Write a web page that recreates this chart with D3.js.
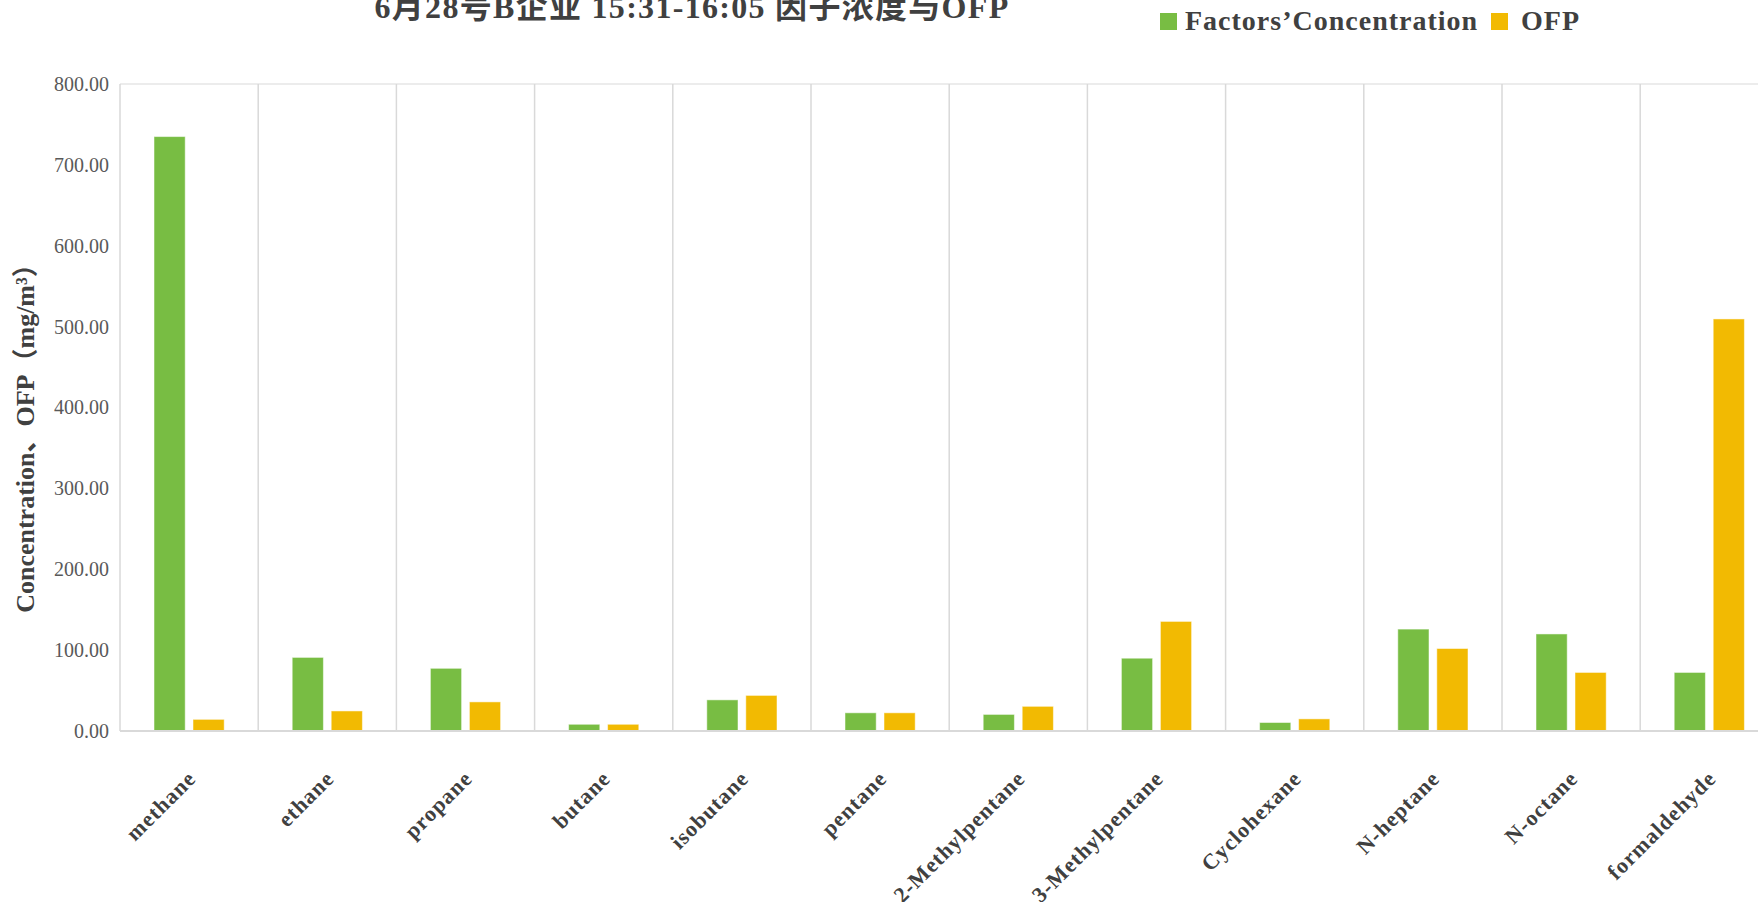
<!DOCTYPE html>
<html>
<head>
<meta charset="utf-8">
<script src="https://cdn.jsdelivr.net/npm/d3@7"></script>
<style>
  body { margin: 0; background: #fff; overflow: hidden; }
  svg { display: block; }
</style>
</head>
<body>
<div id="chart"></div>
<script>
// chart data
var categories = ["methane", "ethane", "propane", "butane", "isobutane", "pentane",
    "2-Methylpentane", "3-Methylpentane", "Cyclohexane", "N-heptane", "N-octane", "formaldehyde"];
var seriesNames = ["Factors\u2019Concentration", "OFP"];
var concentration = [735, 91, 77.5, 8.3, 38.5, 22.5, 20.5, 90, 10.5, 126, 120, 72.4];
var ofp = [14.4, 24.8, 36, 8.3, 44, 22.5, 30.5, 135.5, 15, 102, 72.4, 509.5];
var yTicks = [0, 100, 200, 300, 400, 500, 600, 700, 800];
var colors = ["#78BD43", "#F2BA02"];

var titleText = "6月28号B企业 15:31-16:05 因子浓度与OFP";
var yTitle = "Concentration、OFP（mg/m³）";

// dimensions
var W = 1758, H = 902;
var margin = { top: 84, left: 120, bottom: H - 731 };
var step = 138.2;
var plotRight = margin.left + step * categories.length;
var serif = "'Liberation Serif', 'Times New Roman', 'Noto Sans CJK SC', serif";

var svg = d3.select("#chart")
    .append("svg")
    .attr("width", W)
    .attr("height", H);

// scales
var x = d3.scaleBand()
    .domain(categories)
    .range([margin.left, plotRight])
    .paddingInner(0)
    .paddingOuter(0);

var xSub = d3.scaleBand()
    .domain(seriesNames)
    .range([34, step - 34])
    .paddingInner(0.2);

var y = d3.scaleLinear()
    .domain([0, 800])
    .range([H - margin.bottom, margin.top]);

// plot border + vertical category separators
var grid = svg.append("g");
grid.append("line")
    .attr("x1", margin.left).attr("x2", plotRight)
    .attr("y1", y(800)).attr("y2", y(800))
    .style("stroke", "#D9D9D9").style("stroke-width", 1);
grid.selectAll(".sep")
    .data(d3.range(categories.length + 1))
    .enter()
    .append("line")
    .attr("class", "sep")
    .attr("x1", function (i) { return margin.left + i * x.step(); })
    .attr("x2", function (i) { return margin.left + i * x.step(); })
    .attr("y1", y(800)).attr("y2", y(0))
    .style("stroke", "#D9D9D9").style("stroke-width", 1.5);

// bars
var rows = categories.map(function (c, i) {
    return { cat: c, values: [concentration[i], ofp[i]] };
});

var groups = svg.selectAll(".grp")
    .data(rows)
    .enter()
    .append("g")
    .attr("class", "grp")
    .attr("transform", function (d) { return "translate(" + x(d.cat) + ",0)"; });

groups.selectAll("rect")
    .data(function (d) { return d.values.map(function (v, k) { return { name: seriesNames[k], v: v, k: k }; }); })
    .enter()
    .append("rect")
    .attr("x", function (d) { return xSub(d.name); })
    .attr("width", xSub.bandwidth())
    .attr("y", function (d) { return y(d.v); })
    .attr("height", function (d) { return y(0) - y(d.v); })
    .style("fill", function (d) { return colors[d.k]; })
    .style("stroke", "#ffffff")
    .style("stroke-opacity", 0.5)
    .style("stroke-width", 1);

// baseline
svg.append("line")
    .attr("x1", margin.left).attr("x2", plotRight)
    .attr("y1", y(0)).attr("y2", y(0))
    .style("stroke", "#D9D9D9").style("stroke-width", 2);

// Y axis
var yAxis = svg.append("g")
    .attr("transform", "translate(" + (margin.left - 11) + ",0)")
    .call(d3.axisLeft(y).tickValues(yTicks).tickSize(0).tickFormat(d3.format(".2f")));
yAxis.select(".domain").remove();
yAxis.selectAll("text")
    .attr("x", 0)
    .style("font-family", serif)
    .style("font-size", "20px")
    .style("fill", "#595959");

// Y axis label
svg.append("text")
    .attr("transform", "translate(34,432) rotate(-90)")
    .style("text-anchor", "middle")
    .style("font-family", serif)
    .style("font-weight", "bold")
    .style("font-size", "26px")
    .style("fill", "#404040")
    .text(yTitle);

// X labels
svg.selectAll(".xlab")
    .data(categories)
    .enter()
    .append("text")
    .attr("class", "xlab")
    .attr("transform", function (d) {
        return "translate(" + (x(d) + x.bandwidth() / 2 + 8) + "," + (y(0) + 49) + ") rotate(-45)";
    })
    .style("text-anchor", "end")
    .style("font-family", serif)
    .style("font-weight", "bold")
    .style("font-size", "22px")
    .style("letter-spacing", "1px")
    .style("fill", "#404040")
    .text(function (d) { return d; });

// title
svg.append("text")
    .attr("x", 692)
    .attr("y", 18)
    .style("text-anchor", "middle")
    .style("font-family", serif)
    .style("font-weight", "bold")
    .style("font-size", "32px")
    .style("letter-spacing", "1.3px")
    .style("fill", "#404040")
    .text(titleText);

// legend
var legend = svg.append("g").attr("transform", "translate(1160,13)");
var lx = [0, 331];
var tx = [25, 30];
seriesNames.forEach(function (name, k) {
    legend.append("rect")
        .attr("x", lx[k]).attr("y", 0)
        .attr("width", 17).attr("height", 17)
        .style("fill", colors[k]);
    legend.append("text")
        .attr("x", lx[k] + tx[k])
        .attr("y", 17)
        .style("font-family", serif)
        .style("font-weight", "bold")
        .style("font-size", "28px")
        .style("letter-spacing", "1px")
        .style("fill", "#404040")
        .text(name);
});
</script>
</body>
</html>
